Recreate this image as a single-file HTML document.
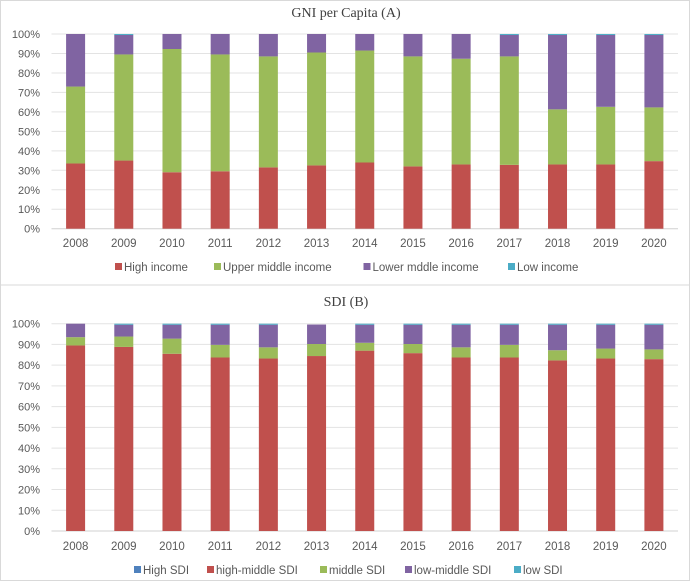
<!DOCTYPE html>
<html><head><meta charset="utf-8"><style>
html,body{margin:0;padding:0;background:#fff;}
svg{display:block;font-family:"Liberation Sans",sans-serif;}
</style></head><body>
<svg id="c" width="690" height="581" viewBox="0 0 690 581">
<rect x="0.5" y="0.5" width="689" height="580" fill="#fff" stroke="#d9d9d9"/>
<line x1="0" y1="285" x2="690" y2="285" stroke="#d9d9d9"/>
</svg>
<script>
const years = ['2008','2009','2010','2011','2012','2013','2014','2015','2016','2017','2018','2019','2020'];
const ticks = ['0%','10%','20%','30%','40%','50%','60%','70%','80%','90%','100%'];
const aHigh = [33.5,35,29,29.5,31.5,32.5,34,32,33,32.8,33,33,34.7];
const aUpper = [39.5,54.5,63.3,60,57,58,57.5,56.5,54.3,55.7,28.3,29.6,27.6];
const aLower = [27,10,7.7,10.5,11.5,9.5,8.5,11.5,12.7,11,38.2,36.9,37.2];
const aLow = [0,0.5,0,0,0,0,0,0,0,0.5,0.5,0.5,0.5];
const bHigh = [0,0,0,0,0,0,0,0,0,0,0,0,0];
const bHighMid = [89.5,88.8,85.5,83.7,83.2,84.4,87,85.8,83.7,83.7,82.3,83.2,82.9];
const bMiddle = [4,5,7.3,6.1,5.4,5.8,3.8,4.4,4.9,6.1,4.9,4.8,4.7];
const bLowMid = [6.5,5.7,6.7,9.7,10.9,9.4,8.7,9.3,10.9,9.7,12.3,11.5,11.9];
const bLow = [0,0.5,0.5,0.5,0.5,0,0.5,0.5,0.5,0.5,0.5,0.5,0.5];

const NS='http://www.w3.org/2000/svg';
const svg=document.getElementById('c');
function mk(tag,attrs,parent){const e=document.createElementNS(NS,tag);for(const k in attrs)e.setAttribute(k,attrs[k]);(parent||svg).appendChild(e);return e;}

function chart(cfg){
  const g=mk('g',{});
  
  
  const x0=51.5,x1=678,step=(x1-x0)/years.length;
  const y=v=>cfg.yBot-(cfg.yBot-cfg.yTop)*v/100;
  const xc=i=>x0+step*(i+0.5);
  const t=mk('text',{x:346,y:cfg.titleY,'text-anchor':'middle','font-family':'Liberation Serif, serif','font-size':'14',fill:'#404040'},g);
  t.textContent=cfg.title;
  
  
  ticks.forEach((tk,i)=>{
    const v=i*10;
    const l=mk('line',{x1:x0,x2:x1,y1:y(v),y2:y(v),stroke:v===0?'#d0d0d0':'#e3e3e3'},g);
    
    
    const tx=mk('text',{x:40,y:y(v)+4,'text-anchor':'end','font-size':'11',fill:'#595959'},g);
    tx.textContent=tk;
    
    
  });
  years.forEach((yr,i)=>{
    let cum=0;
    cfg.series.forEach(s=>{
      const v=s.data[i];
      if(v>0){
        const r=mk('rect',{x:xc(i)-9.5,width:19,y:y(cum+v),height:y(cum)-y(cum+v),fill:s.color},g);
        
        
      }
      cum+=v;
    });
    const tx=mk('text',{x:xc(i),y:cfg.labelY,'text-anchor':'middle','font-size':'11.5',fill:'#595959'},g);
    tx.textContent=yr;
    
    
  });
  cfg.series.forEach((s,k)=>{
    const lg=mk('g',{},g);
    
    
    mk('rect',{x:cfg.legendX[k],y:cfg.legendY-4,width:7,height:7,fill:s.color},lg);
    const tx=mk('text',{x:cfg.legendX[k]+9,y:cfg.legendY+4,'font-size':'11.5',fill:'#595959'},lg);
    tx.textContent=s.label;
  });
}
chart({name:'gni-chart',title:'GNI per Capita (A)',titleY:17,yTop:34,yBot:228.7,labelY:247,legendY:267,
  legendX:[115,214,363.5,508],
  series:[{key:'high-income',label:'High income',data:aHigh,color:'#c0504d'},
    {key:'upper-middle',label:'Upper middle income',data:aUpper,color:'#9bbb59'},
    {key:'lower-middle',label:'Lower mddle income',data:aLower,color:'#8064a2'},
    {key:'low-income',label:'Low income',data:aLow,color:'#4bacc6'}]});
chart({name:'sdi-chart',title:'SDI (B)',titleY:306,yTop:323.7,yBot:531,labelY:550,legendY:570,
  legendX:[134,207,320,405,514],
  series:[{key:'high-sdi',label:'High SDI',data:bHigh,color:'#4f81bd'},
    {key:'high-middle-sdi',label:'high-middle SDI',data:bHighMid,color:'#c0504d'},
    {key:'middle-sdi',label:'middle SDI',data:bMiddle,color:'#9bbb59'},
    {key:'low-middle-sdi',label:'low-middle SDI',data:bLowMid,color:'#8064a2'},
    {key:'low-sdi',label:'low SDI',data:bLow,color:'#4bacc6'}]});
</script>
</body></html>
